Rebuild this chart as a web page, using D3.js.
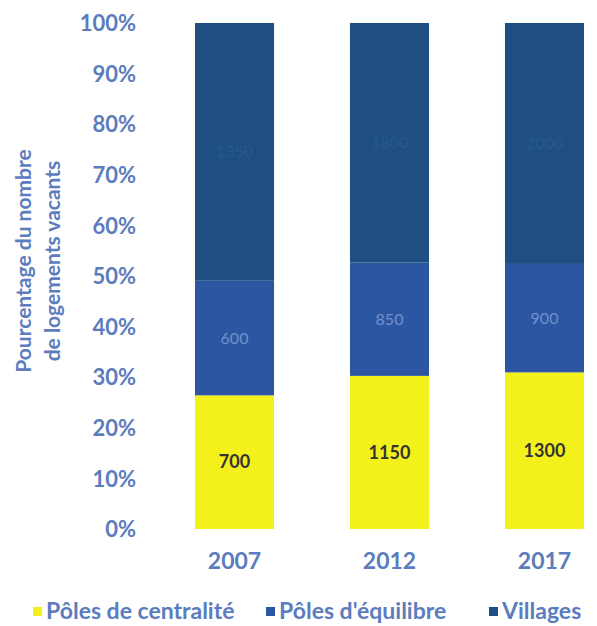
<!DOCTYPE html>
<html><head><meta charset="utf-8">
<script src="https://cdn.jsdelivr.net/npm/d3@7/dist/d3.min.js"></script>
<style>body{margin:0;background:#fff}svg{display:block}</style>
</head><body>
<svg id="c" width="597" height="626"></svg>
<script>
const years = ["2007", "2012", "2017"];
const seriesNames = ["Pôles de centralité", "Pôles d'équilibre", "Villages"];
const centralite = [700, 1150, 1300];
const equilibre = [600, 850, 900];
const villages = [1350, 1800, 2000];
const yTicks = [0, 0.1, 0.2, 0.3, 0.4, 0.5, 0.6, 0.7, 0.8, 0.9, 1];
const colors = ["#f4f01c", "#2d56a2", "#1f4f82"];
const labelColors = ["#333333", "#7190cb", "#28578e"];
const axisColor = "#5b7cbd";
const font = "Lato, 'Open Sans', sans-serif";

const svg = d3.select("#c");
const rows = years.map((y, i) => ({year: y, c: centralite[i], e: equilibre[i], v: villages[i]}));
const stack = d3.stack().keys(["c", "e", "v"]).offset(d3.stackOffsetExpand);
const layers = stack(rows);

const x = d3.scaleBand().domain(years).range([157, 622]).paddingInner(0.49).paddingOuter(0.245);
const y = d3.scaleLinear().domain([0, 1]).range([529, 23]);

// Y axis
const yAxis = d3.axisLeft(y).tickValues(yTicks).tickFormat(d3.format(".0%")).tickSize(0).tickPadding(0);
const ya = svg.append("g").attr("transform", "translate(136,0)").call(yAxis);
ya.select(".domain").remove();
ya.selectAll("text").attr("fill", axisColor).style("font", `bold 22px ${font}`).attr("dy", "0.35em");

// X axis
const xAxis = d3.axisBottom(x).tickSize(0).tickPadding(0);
const xa = svg.append("g").attr("transform", "translate(0,553)").call(xAxis);
xa.select(".domain").remove();
xa.selectAll("text").attr("fill", axisColor).style("font", `bold 23px ${font}`).attr("dy", "0.71em");

// Bars
layers.forEach((layer, li) => {
  const g = svg.append("g");
  g.selectAll("rect").data(layer).join("rect")
    .attr("x", d => x(d.data.year))
    .attr("width", x.bandwidth())
    .attr("y", d => y(d[1]))
    .attr("height", d => y(d[0]) - y(d[1]))
    .attr("fill", colors[li]);
  const vals = [centralite, equilibre, villages][li];
  g.selectAll("text").data(layer).join("text")
    .attr("x", d => x(d.data.year) + x.bandwidth() / 2)
    .attr("y", d => y((d[0] + d[1]) / 2))
    .attr("dy", "0.35em")
    .attr("text-anchor", "middle")
    .attr("fill", labelColors[li])
    .style("font", li === 0 ? `bold 18px ${font}` : `16px ${font}`)
    .text((d, i) => vals[i]);
});

// Y title
const yt = svg.append("text")
  .attr("transform", "translate(0,261) rotate(-90)")
  .attr("text-anchor", "middle")
  .attr("fill", axisColor)
  .style("font", `bold 21px ${font}`);
yt.append("tspan").attr("x", 0).attr("y", 31).text("Pourcentage du nombre");
yt.append("tspan").attr("x", 0).attr("y", 60).text("de logements vacants");

// Legend
const legendX = [33, 266, 489];
const lg = svg.append("g");
seriesNames.forEach((n, i) => {
  lg.append("rect").attr("x", legendX[i]).attr("y", 607).attr("width", 9).attr("height", 9).attr("fill", colors[i]);
  lg.append("text").attr("x", legendX[i] + 13).attr("y", 611).attr("dy", "0.35em")
    .attr("fill", axisColor).style("font", `bold 23px ${font}`).text(n);
});
</script>
</body></html>
